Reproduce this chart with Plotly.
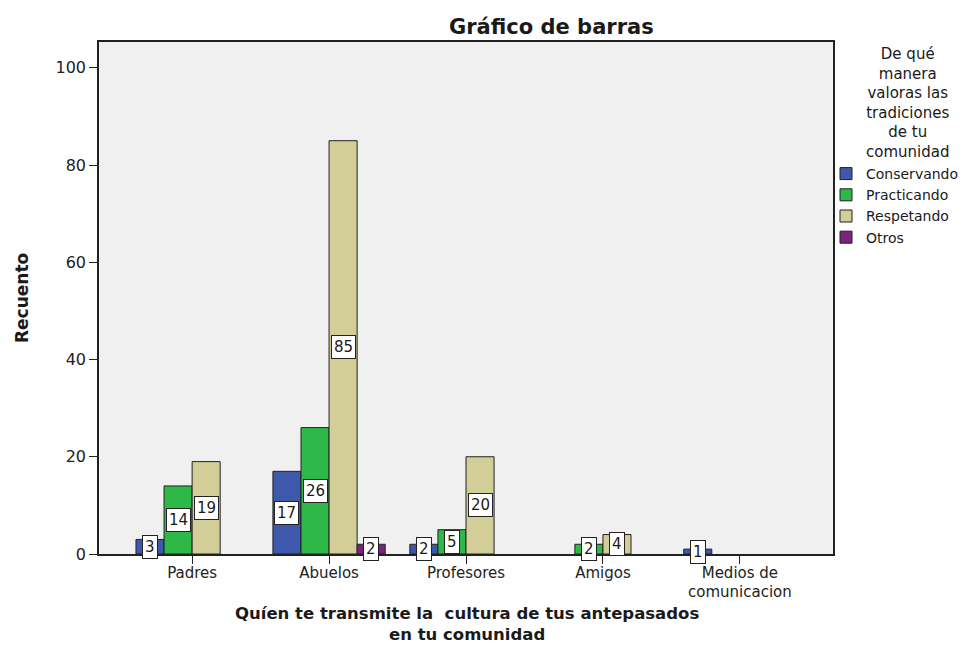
import plotly.graph_objects as go

categories = ["Padres", "Abuelos", "Profesores", "Amigos", "Medios de<br>comunicacion"]
series_names = ["Conservando", "Practicando", "Respetando", "Otros"]
conservando = [3, 17, 2, 0, 1]
practicando = [14, 26, 5, 2, 0]
respetando = [19, 85, 20, 4, 0]
otros = [0, 2, 0, 0, 0]
series_values = [conservando, practicando, respetando, otros]
colors = ["#3E58AC", "#2EB848", "#D3CE97", "#7B2281"]
y_ticks = [0, 20, 40, 60, 80, 100]
legend_title_lines = ["De qué", "manera", "valoras las", "tradiciones", "de tu", "comunidad"]
chart_title = "Gráfico de barras"
x_title_lines = ["Quíen te transmite la  cultura de tus antepasados", "en tu comunidad"]
y_title = "Recuento"

FONT = "DejaVu Sans, Arial, sans-serif"
INK = "#1A1A1A"

# page offset (body margin) and plot-area geometry in screen pixels
OFF = 8
W, H = 979 - OFF, 646 - OFF
PL, PT, PR, PB = 99, 42, 833, 554


def px(X):
    return (X - PL) / (PR - PL)


def py(Y):
    return (PB - Y) / (PB - PT)


bargap = 0.18
bar_w = (1 - bargap) / len(series_names)

fig = go.Figure()
for name, vals, col in zip(series_names, series_values, colors):
    fig.add_trace(go.Bar(
        x=list(range(len(categories))),
        y=[v if v > 0 else None for v in vals],
        name=name,
        marker=dict(color=col, line=dict(color="#222222", width=1)),
    ))

annotations = []
for j, vals in enumerate(series_values):
    off = (j - (len(series_names) - 1) / 2) * bar_w
    for i, v in enumerate(vals):
        if v > 0:
            annotations.append(dict(
                x=i + off, y=v / 2, xref="x", yref="y", text=str(v),
                showarrow=False, bgcolor="white", bordercolor="#222222",
                borderwidth=1, borderpad=2,
                font=dict(family=FONT, size=15, color=INK),
            ))

# chart title
annotations.append(dict(
    x=px(551), y=py(27), xref="paper", yref="paper", xanchor="center", yanchor="middle",
    text="<b>" + chart_title + "</b>", showarrow=False,
    font=dict(family=FONT, size=21, color=INK),
))
# x axis title (two lines)
annotations.append(dict(
    x=px(467), y=py(646), xref="paper", yref="paper", xanchor="center", yanchor="bottom",
    text="<br>".join("<b>" + s + "</b>" for s in x_title_lines), showarrow=False,
    font=dict(family=FONT, size=16.5, color=INK),
))
# y axis title
annotations.append(dict(
    x=px(22), y=py(298), xref="paper", yref="paper", xanchor="center", yanchor="middle",
    text="<b>" + y_title + "</b>", showarrow=False, textangle=-90,
    font=dict(family=FONT, size=17, color=INK),
))
# legend title
annotations.append(dict(
    x=px(908), y=py(103), xref="paper", yref="paper",
    xanchor="center", yanchor="middle", text="<br>".join(legend_title_lines),
    showarrow=False, font=dict(family=FONT, size=15, color=INK),
))

fig.update_layout(
    width=W, height=H,
    margin=dict(l=PL - OFF, r=W - (PR - OFF), t=PT - OFF, b=H - (PB - OFF), autoexpand=False),
    paper_bgcolor="white", plot_bgcolor="#F0F0F0",
    barmode="group", bargap=bargap, bargroupgap=0,
    font=dict(family=FONT, size=15, color=INK),
    showlegend=True,
    legend=dict(
        x=px(826), xanchor="left", y=py(158), yanchor="top",
        font=dict(family=FONT, size=14, color=INK),
        tracegroupgap=0, itemwidth=30, bgcolor="rgba(0,0,0,0)",
    ),
    annotations=annotations,
)

fig.update_xaxes(
    tickmode="array", tickvals=list(range(len(categories))), ticktext=categories,
    range=[-0.68, len(categories) - 1 + 0.68], automargin=False,
    showline=True, linecolor="#222222", linewidth=1.5, mirror=True,
    ticks="outside", ticklen=8, tickcolor="#222222", showgrid=False, zeroline=False,
    ticklabelstandoff=-4,
    tickfont=dict(family=FONT, size=15, color="#222222"),
)
fig.update_yaxes(
    range=[0, 105.3], tickvals=y_ticks, automargin=False,
    showline=True, linecolor="#222222", linewidth=1.5, mirror=True,
    ticks="outside", ticklen=8, tickcolor="#222222", showgrid=False, zeroline=False,
    tickfont=dict(family=FONT, size=16, color="#222222"),
)

fig.write_html("out.html")
